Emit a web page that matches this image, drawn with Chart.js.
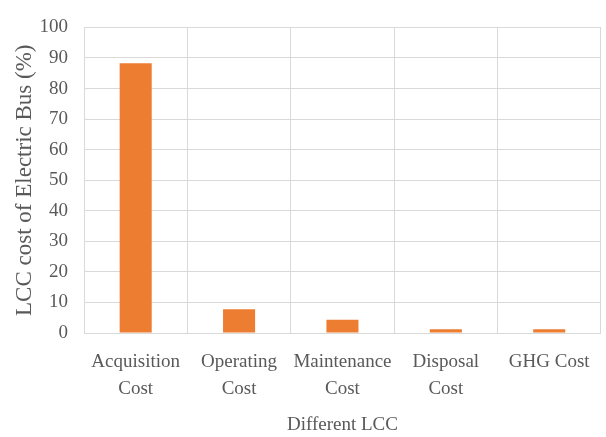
<!DOCTYPE html>
<html>
<head>
<meta charset="utf-8">
<script src="https://cdn.jsdelivr.net/npm/chart.js@4/dist/chart.umd.min.js"></script>
<style>
  html, body { margin: 0; padding: 0; background: #fff; }
  #wrap { width: 606px; height: 437px; position: relative; }
</style>
</head>
<body>
<div id="wrap"><canvas id="lccChart"></canvas></div>
<script>
'use strict';

// LCC breakdown for the electric bus (% of total)
const categories = [
    ['Acquisition', 'Cost'],
    ['Operating', 'Cost'],
    ['Maintenance', 'Cost'],
    ['Disposal', 'Cost'],
    'GHG Cost'
];
const lccShare = [88.3, 7.8, 4.3, 1.2, 1.2];
const yTicks = [0, 10, 20, 30, 40, 50, 60, 70, 80, 90, 100];

const textColor = '#595959';
const gridColor = '#d9d9d9';
const serif = "'Liberation Serif', 'Times New Roman', serif";

new Chart(document.getElementById('lccChart'), {
    type: 'bar',
    data: {
        labels: categories,
        datasets: [{
            data: lccShare,
            backgroundColor: '#ed7d31',
            borderWidth: 0,
            categoryPercentage: 1,
            barPercentage: 0.31
        }]
    },
    options: {
        responsive: true,
        maintainAspectRatio: false,
        animation: false,
        layout: { padding: { top: 15, right: 4, bottom: 0, left: 0 } },
        scales: {
            x: {
                grid: { color: gridColor, drawTicks: false, offset: true },
                border: { color: gridColor },
                ticks: {
                    color: textColor,
                    padding: 16,
                    maxRotation: 0,
                    font: { family: serif, size: 19, lineHeight: 1.42 }
                },
                title: {
                    display: true,
                    text: 'Different LCC',
                    color: textColor,
                    padding: { top: 0, bottom: 1 },
                    font: { family: serif, size: 19, lineHeight: 1.2 }
                },
                afterFit: scale => { scale.height = 104; }
            },
            y: {
                min: 0,
                max: 100,
                grid: { color: gridColor, drawTicks: false },
                border: { color: gridColor },
                afterBuildTicks: scale => {
                    scale.ticks = yTicks.map(v => ({ value: v }));
                },
                ticks: {
                    color: textColor,
                    padding: 16,
                    font: { family: serif, size: 19 }
                },
                title: {
                    display: true,
                    text: 'LCC cost of Electric Bus (%)',
                    color: textColor,
                    padding: { top: 11, bottom: 0 },
                    font: { family: serif, size: 23, lineHeight: 1.2 }
                },
                afterFit: scale => { scale.width = 84; }
            }
        },
        plugins: {
            legend: { display: false },
            tooltip: { enabled: false }
        }
    }
});
</script>
</body>
</html>
